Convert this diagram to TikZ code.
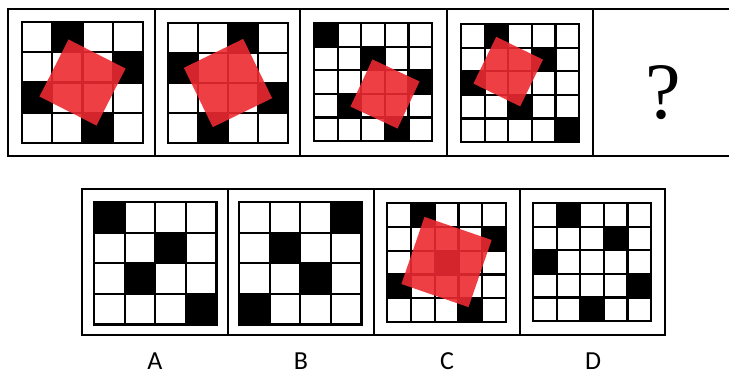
\documentclass[tikz,border=0pt]{standalone}
\usepackage{fontspec}
\newfontfamily\labelfont{Carlito}
\newfontfamily\qfont{Liberation Serif}
\definecolor{sqred}{RGB}{235,42,48}
\tikzset{
  gridline/.style={line width=2.2pt, black, line cap=rect},
  frame/.style={line width=2pt, black},
  redfill/.style={fill=sqred, fill opacity=0.9},
  optlabel/.style={font=\labelfont\fontsize{26}{26}\selectfont, anchor=base, inner sep=0pt}
}
\newcommand\mygrid[5]{%
  \begin{scope}[shift={(#1,#2)}, x=#3pt, y=-#3pt]
    \foreach \r/\c in {#5} {\fill[black] (\c,\r) rectangle ++(1,1);}
    \foreach \i in {0,...,#4} {\draw[gridline] (\i,0) -- (\i,#4); \draw[gridline] (0,\i) -- (#4,\i);}
  \end{scope}}
\newcommand\redsq[4]{\fill[redfill, shift={(#1,#2)}, rotate=#4] (-#3,-#3) rectangle (#3,#3);}
\begin{document}
\begin{tikzpicture}[x=1pt, y=-1pt]
  \useasboundingbox (0,0) rectangle (729,373);
  % top row frames
  \draw[frame] (8,9) rectangle (745,156);
  \foreach \xx in {155,300,447,593} {\draw[frame] (\xx,9) -- (\xx,156);}
  % bottom row frames
  \draw[frame] (82,189) rectangle (665,335);
  \foreach \xx in {228,374,520} {\draw[frame] (\xx,189) -- (\xx,335);}
  % top row grids
  \mygrid{22}{22}{30.25}{4}{0/1,1/3,2/0,3/2}
  \mygrid{168}{23}{30}{4}{0/2,1/0,2/3,3/1}
  \mygrid{314}{23}{23.6}{5}{0/0,1/2,2/4,3/1,4/3}
  \mygrid{461}{24}{23.6}{5}{0/1,1/3,2/0,3/2,4/4}
  % red squares top row
  \redsq{82.5}{82.5}{32}{-27}
  \redsq{228}{83}{33}{26}
  \redsq{385}{94}{26}{-25}
  \redsq{508.2}{71.6}{26}{-26}
  % question mark
  \node[anchor=base, inner sep=0pt, font=\qfont\fontsize{80}{80}\selectfont] (qm) at (663,118) {?};
  % options
  \mygrid{94}{202}{30.6}{4}{0/0,1/2,2/1,3/3}
  \mygrid{239}{202}{30.6}{4}{0/3,1/1,2/2,3/0}
  \mygrid{387}{203}{23.8}{5}{0/1,1/4,2/2,3/0,4/3}
  \mygrid{533}{203}{23.6}{5}{0/1,1/3,2/0,3/4,4/2}
  \redsq{446.5}{262}{35.5}{-19}
  % labels
  \node[optlabel] (la) at (155,369) {A};
  \node[optlabel] (lb) at (301,369) {B};
  \node[optlabel] (lc) at (447,369) {C};
  \node[optlabel] (ld) at (593,369) {D};
\end{tikzpicture}
\end{document}
